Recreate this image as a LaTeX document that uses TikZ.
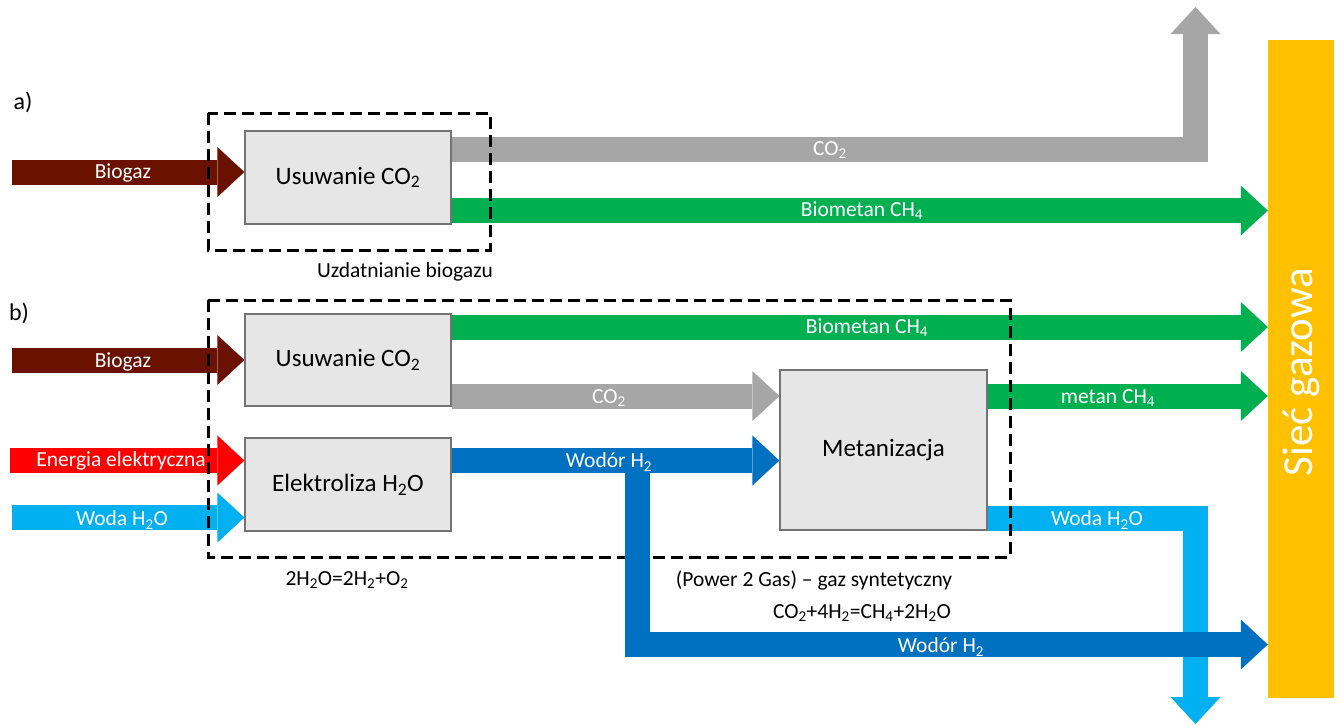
\documentclass[tikz,border=0pt]{standalone}
\usepackage{fontspec}
\setmainfont{Carlito}
\usetikzlibrary{arrows.meta}
\definecolor{cbrown}{HTML}{6A1100}
\definecolor{cred}{HTML}{FF0000}
\definecolor{clblue}{HTML}{00B0F0}
\definecolor{cblue}{HTML}{0070C0}
\definecolor{cgreen}{HTML}{00B050}
\definecolor{cgray}{HTML}{A6A6A6}
\definecolor{cyellow}{HTML}{FFC000}
\definecolor{cbox}{HTML}{E7E6E6}
\begin{document}
\begin{tikzpicture}[x=1pt,y=-1pt,
  bigarrow/.style={line width=25pt,line cap=butt,line join=miter,
    -{Triangle[width=50pt,length=27pt,line width=0pt]}},
  procbox/.style={draw=black!55,line width=1.2pt,fill=cbox,inner sep=0pt,
    minimum width=206pt,font=\fontsize{25}{29}\selectfont},
  dashbox/.style={draw=black,line width=3pt,dash pattern=on 12pt off 6pt},
  lbl/.style={text=white,inner sep=0pt,font=\fontsize{21.5}{25}\selectfont},
  txt/.style={text=black,inner sep=0pt,font=\fontsize{21.5}{25}\selectfont}]
\useasboundingbox (0,0) rectangle (1341,724);

% gas network bar
\node[fill=cyellow,inner sep=0pt,minimum width=66pt,minimum height=658pt] (bar) at (1301,369) {};
\node[rotate=90,text=white,font=\fontsize{43}{48}\selectfont] (barlbl) at (1301,372) {Sieć gazowa};

% ---------- a) ----------
\node[txt,font=\fontsize{24}{28}\selectfont] (la) at (23,102) {a)};
\node[procbox,minimum height=93pt] (ua) at (348,177.5) {Usuwanie CO\textsubscript{2}};
\coordinate (srcA) at (12,172);
\coordinate (co2corner) at (1195.5,149);
\coordinate (co2top) at (1195.5,7);

\draw[bigarrow,cbrown] (srcA) -- (srcA -| ua.west);
\draw[bigarrow,cgray] (ua.east |- co2corner) -- (co2corner) -- (co2top);
\draw[bigarrow,cgreen] (ua.east |- 0,210.5) -- (bar.west |- 0,210.5);

\node[txt] (uzd) at (405,272) {Uzdatnianie biogazu};

% ---------- b) ----------
\node[txt,font=\fontsize{24}{28}\selectfont] (lb) at (19,313) {b)};
\node[procbox,minimum height=92pt] (ub) at (348,360) {Usuwanie CO\textsubscript{2}};
\node[procbox,minimum height=93pt] (el) at (348,484.5) {Elektroliza H\textsubscript{2}O};
\node[procbox,minimum width=207pt,minimum height=160pt] (met) at (883.5,450) {Metanizacja};

\coordinate (srcB) at (12,360);
\coordinate (srcE) at (10,460.5);
\coordinate (srcW) at (12,517.5);
\coordinate (wcorner) at (1195.5,518.5);
\coordinate (wbottom) at (1195.5,724);
\coordinate (hsplit) at (637.5,473);
\coordinate (hcorner) at (637.5,644.5);

\draw[bigarrow,cbrown] (srcB) -- (srcB -| ub.west);
\draw[bigarrow,cred] (srcE) -- (srcE -| el.west);
\draw[bigarrow,clblue] (srcW) -- (srcW -| el.west);
\draw[bigarrow,cgreen] (ub.east |- 0,327) -- (bar.west |- 0,327);
\draw[bigarrow,cgray] (ub.east |- 0,396) -- (met.west |- 0,396);
\draw[bigarrow,cblue] (el.east |- 0,460.5) -- (met.west |- 0,460.5);
\draw[bigarrow,cgreen] (met.east |- 0,396) -- (bar.west |- 0,396);
\draw[bigarrow,clblue] (met.east |- wcorner) -- (wcorner) -- (wbottom);

% dashed frames
\draw[dashbox] (208,113) rectangle (490,250);
\draw[dashbox] (208,300) rectangle (1010,557);

% hydrogen branch to the grid
\draw[bigarrow,cblue] (hsplit) -- (hcorner) -- (bar.west |- hcorner);

% labels on the arrows
\node[lbl] at (123,173) {Biogaz};
\node[lbl] at (830,150) {CO\textsubscript{2}};
\node[lbl] at (862,211) {Biometan CH\textsubscript{4}};
\node[lbl] at (123,362) {Biogaz};
\node[lbl] at (121,461) {Energia elektryczna};
\node[lbl] at (122,520) {Woda H\textsubscript{2}O};
\node[lbl] at (867,328) {Biometan CH\textsubscript{4}};
\node[lbl] at (609,398) {CO\textsubscript{2}};
\node[lbl] at (609,462) {Wodór H\textsubscript{2}};
\node[lbl] at (1108,398) {metan CH\textsubscript{4}};
\node[lbl] at (1097,520) {Woda H\textsubscript{2}O};
\node[lbl] at (941,647) {Wodór H\textsubscript{2}};

% equations
\node[txt] (eq1) at (347,580) {2H\textsubscript{2}O=2H\textsubscript{2}+O\textsubscript{2}};
\node[txt] (p2g) at (814,580) {(Power 2 Gas) – gaz syntetyczny};
\node[txt] (eq2) at (862,613) {CO\textsubscript{2}+4H\textsubscript{2}=CH\textsubscript{4}+2H\textsubscript{2}O};
\end{tikzpicture}
\end{document}
